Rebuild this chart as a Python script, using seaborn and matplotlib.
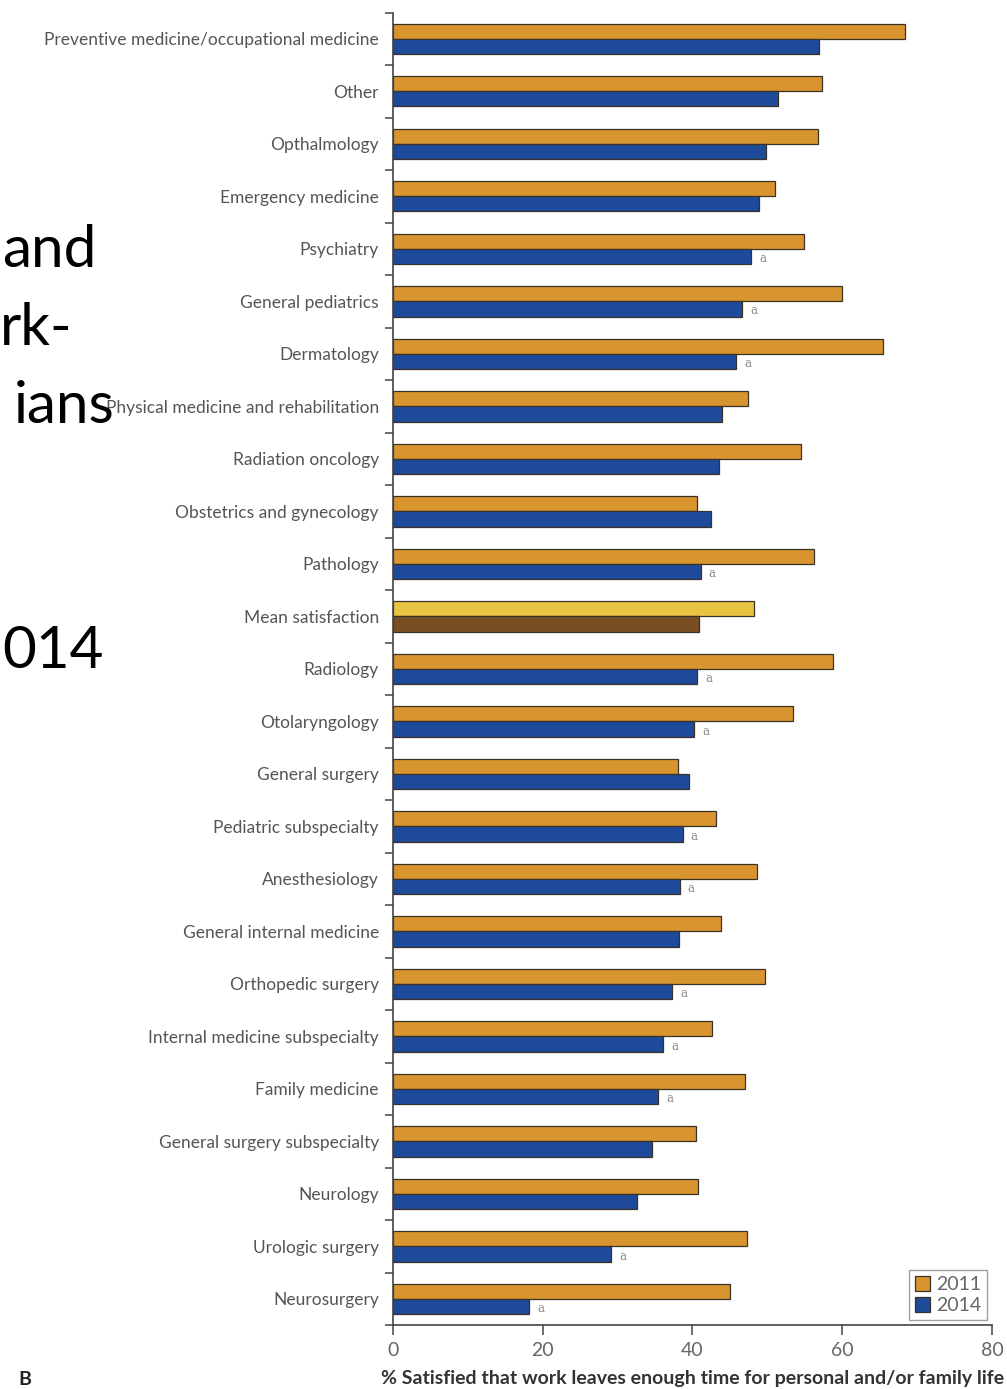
import matplotlib
matplotlib.use("Agg")
import matplotlib.pyplot as plt
import numpy as np
import pandas as pd
import seaborn as sns

specialties = [
    "Preventive medicine/occupational medicine", "Other", "Opthalmology",
    "Emergency medicine", "Psychiatry", "General pediatrics", "Dermatology",
    "Physical medicine and rehabilitation", "Radiation oncology",
    "Obstetrics and gynecology", "Pathology", "Mean satisfaction", "Radiology",
    "Otolaryngology", "General surgery", "Pediatric subspecialty",
    "Anesthesiology", "General internal medicine", "Orthopedic surgery",
    "Internal medicine subspecialty", "Family medicine",
    "General surgery subspecialty", "Neurology", "Urologic surgery", "Neurosurgery",
]
pct_2011 = [68.4, 57.3, 56.8, 51.0, 54.9, 60.0, 65.4, 47.4, 54.5, 40.6, 56.2, 48.3,
            58.8, 53.4, 38.1, 43.1, 48.6, 43.8, 49.7, 42.6, 47.0, 40.5, 40.7, 47.3, 45.0]
pct_2014 = [56.9, 51.4, 49.9, 48.9, 47.8, 46.7, 45.8, 43.9, 43.5, 42.5, 41.1, 40.9,
            40.6, 40.2, 39.5, 38.7, 38.3, 38.2, 37.3, 36.1, 35.4, 34.6, 32.6, 29.2, 18.2]
# "a" marks next to the 2014 bar
flag_2014 = [0, 0, 0, 0, 1, 1, 1, 0, 0, 0, 1, 0, 1, 1, 0, 1, 1, 0, 1, 1, 1, 0, 0, 1, 1]
years = ["2011", "2014"]
slide_words = ["and", "rk-", "ians", "014"]

df = pd.DataFrame({
    "specialty": specialties * 2,
    "pct": pct_2011 + pct_2014,
    "year": [years[0]] * len(specialties) + [years[1]] * len(specialties),
})

sns.set_style("ticks")
plt.rcParams["font.family"] = ["Lato", "DejaVu Sans"]

fig = plt.figure(figsize=(10.07, 13.89), dpi=100)
ax = fig.add_axes([0.390, 0.046, 0.595, 0.945])

colors = {"2011": "#D8952F", "2014": "#1E4A9B"}
sns.barplot(data=df, y="specialty", x="pct", hue="year", orient="h",
            palette=colors, width=0.58, edgecolor="#3a3226", linewidth=0.9,
            saturation=1, ax=ax)

# mean satisfaction row has its own colours
mean_idx = specialties.index("Mean satisfaction")
ax.containers[0][mean_idx].set_facecolor("#E8C443")
ax.containers[1][mean_idx].set_facecolor("#7A5023")

for bar, flag in zip(ax.containers[1], flag_2014):
    if flag:
        ax.text(bar.get_width() + 1.1, bar.get_y() + bar.get_height() / 2 + 0.04, "a",
                ha="left", va="center", fontsize=8.5, color="#8a8a8a",
                family="DejaVu Serif")

ax.set_xlim(0, 80)
ax.set_ylim(len(specialties) - 0.5, -0.5)
ax.set_xticks([0, 20, 40, 60, 80])
ax.set_yticks(np.arange(-0.5, len(specialties)), minor=True)
ax.tick_params(axis="y", which="major", length=0, pad=10, labelsize=12.5,
               labelcolor="#555555")
ax.tick_params(axis="y", which="minor", length=6, width=1.1, color="#444444")
ax.tick_params(axis="x", length=7, width=1.1, color="#444444", labelsize=14,
               labelcolor="#666666", pad=5)
ax.set_ylabel("")
ax.set_xlabel("% Satisfied that work leaves enough time for personal and/or family life",
              fontsize=14, fontweight="bold", color="#333333", labelpad=8)
sns.despine(ax=ax)
for side in ["left", "bottom"]:
    ax.spines[side].set_color("#444444")
    ax.spines[side].set_linewidth(1.2)

handles, labels = ax.get_legend_handles_labels()
ax.legend(handles, labels, loc="lower right", bbox_to_anchor=(1.0, 0.0),
          borderaxespad=0.25, fontsize=14, frameon=True, fancybox=False,
          edgecolor="#888888", handlelength=0.8, handleheight=0.8,
          handletextpad=0.3, borderpad=0.3, labelspacing=0.2, labelcolor="#666666")

# cropped slide text on the left
lefts = [2, 0, 14, 2]
for word, base, left in zip(slide_words, [267, 345, 423, 668], lefts):
    fig.text(left / 1007, 1 - base / 1389, word, ha="left", va="baseline",
             fontsize=42, color="black")

fig.text(18 / 1007, 1 - 1385 / 1389, "B", ha="left", va="baseline",
         fontsize=14, fontweight="bold", color="#222222")

fig.savefig("out.png", dpi=100)
